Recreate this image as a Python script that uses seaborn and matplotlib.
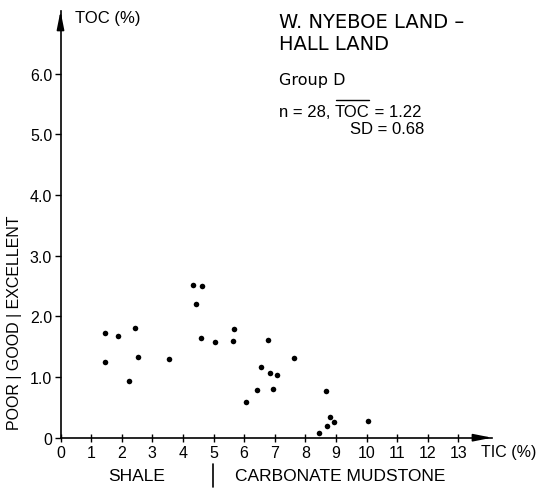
import matplotlib
matplotlib.use("Agg")
import matplotlib.pyplot as plt
import seaborn as sns
import pandas as pd

# TIC / TOC measurements, Group D samples
tic = [1.47, 1.47, 1.87, 2.24, 2.43, 2.54, 3.56, 4.34, 4.62, 4.44,
       4.59, 5.05, 5.66, 5.64, 6.06, 6.56, 6.43, 6.77, 6.86, 6.94,
       7.06, 7.62, 8.67, 8.82, 8.93, 8.70, 8.44, 10.05]
toc = [1.72, 1.24, 1.67, 0.94, 1.81, 1.33, 1.29, 2.52, 2.50, 2.20,
       1.64, 1.58, 1.79, 1.59, 0.58, 1.16, 0.79, 1.61, 1.07, 0.81,
       1.04, 1.31, 0.77, 0.34, 0.26, 0.19, 0.08, 0.28]

x_ticks = list(range(0, 14))
y_ticks = [0, 1, 2, 3, 4, 5, 6]
y_tick_labels = ["0", "1.0", "2.0", "3.0", "4.0", "5.0", "6.0"]

title_lines = ["W. NYEBOE LAND \u2013", "HALL LAND"]
group_label = "Group D"
n_samples = 28
toc_mean = 1.22
toc_sd = 0.68

sns.set_theme(style="white")
plt.rcParams["font.family"] = ["Liberation Sans", "DejaVu Sans"]
plt.rcParams["text.color"] = "black"
plt.rcParams["xtick.color"] = "black"
plt.rcParams["ytick.color"] = "black"

W, H = 544, 489
fig = plt.figure(figsize=(W / 100, H / 100), dpi=100)

x0, y0 = 60.5, 438.7
px_x, px_y = 30.6, 60.7
xmax, ymax = 14.1, 7.03
ax = fig.add_axes([x0 / W, (H - y0) / H, xmax * px_x / W, ymax * px_y / H])

df = pd.DataFrame({"TIC": tic, "TOC": toc})
sns.scatterplot(data=df, x="TIC", y="TOC", ax=ax, color="black",
                s=16, linewidth=0, clip_on=False)

ax.set_xlim(0, xmax)
ax.set_ylim(0, ymax)
ax.set_xlabel("")
ax.set_ylabel("")
for side in ("top", "right"):
    ax.spines[side].set_visible(False)
for side in ("left", "bottom"):
    ax.spines[side].set_color("black")
    ax.spines[side].set_linewidth(1.2)

# axis arrow heads: long, narrow triangles
arrow = dict(arrowstyle="-|>,head_length=1.1,head_width=0.22",
             color="black", lw=1.2, mutation_scale=10, shrinkA=0, shrinkB=0)
ax.annotate("", xy=(1, 0), xytext=(0.96, 0), xycoords="axes fraction",
            arrowprops=arrow, annotation_clip=False)
ax.annotate("", xy=(0, 1), xytext=(0, 0.96), xycoords="axes fraction",
            arrowprops=arrow, annotation_clip=False)

ax.set_xticks(x_ticks)
ax.set_xticklabels([str(v) for v in x_ticks], fontsize=11.5)
ax.set_yticks(y_ticks)
ax.set_yticklabels(y_tick_labels, fontsize=11.5)
ax.tick_params(axis="x", direction="inout", length=6, width=1,
               pad=2, bottom=True)
ax.tick_params(axis="y", direction="out", length=4, width=1,
               pad=2, left=True)

# axis titles
fig.text(75 / W, 1 - 18 / H, "TOC (%)", fontsize=12, va="center", ha="left")
fig.text(481 / W, 1 - 453 / H, "TIC (%)", fontsize=11.5, va="center", ha="left")

# lithology labels under the x axis
fig.text(137 / W, 1 - 477 / H, "SHALE", fontsize=12.5, va="center", ha="center")
fig.text(340 / W, 1 - 477 / H, "CARBONATE MUDSTONE", fontsize=12.5,
         va="center", ha="center")
fig.add_artist(plt.Line2D([212.5 / W, 212.5 / W], [1 - 465 / H, 1 - 488 / H],
                          color="black", linewidth=1.2))

# source rock quality classes along the y axis
fig.text(15 / W, 1 - 430 / H, "POOR | GOOD | EXCELLENT", fontsize=11.5,
         rotation=90, va="bottom", ha="center")

# title block
fig.text(279 / W, 1 - 23 / H, title_lines[0], fontsize=14,
         family="DejaVu Sans", va="center", ha="left")
fig.text(279 / W, 1 - 45 / H, title_lines[1], fontsize=14,
         family="DejaVu Sans", va="center", ha="left")
fig.text(279 / W, 1 - 81 / H, group_label, fontsize=11.5,
         family="DejaVu Sans", va="center", ha="left")

# statistics: "n = 28, TOC = 1.22" with an overline on TOC (mean)
renderer = fig.canvas.get_renderer()
stat_y = 1 - 117 / H
stat_fs = 12
t1 = fig.text(279 / W, stat_y, f"n = {n_samples}, ", fontsize=stat_fs,
              va="baseline", ha="left")
bb1 = t1.get_window_extent(renderer)
t2 = fig.text(bb1.x1 / W, stat_y, "TOC", fontsize=stat_fs,
              va="baseline", ha="left")
bb2 = t2.get_window_extent(renderer)
t3 = fig.text(bb2.x1 / W, stat_y, f" = {toc_mean:.2f}", fontsize=stat_fs,
              va="baseline", ha="left")
over_y = stat_y + 16 / H
fig.add_artist(plt.Line2D([(bb2.x0 + 1) / W, (bb2.x1 - 1) / W],
                          [over_y, over_y], color="black", linewidth=1.0))
fig.text(350 / W, 1 - 134 / H, f"SD = {toc_sd:.2f}", fontsize=stat_fs,
         va="baseline", ha="left")

fig.savefig("out.png", dpi=100)
